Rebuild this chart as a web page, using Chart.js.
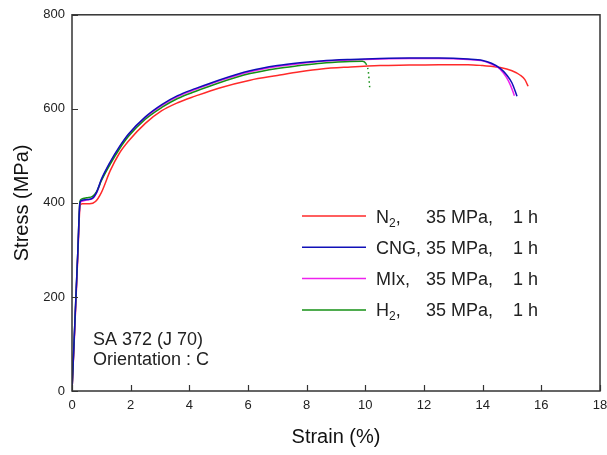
<!DOCTYPE html>
<html><head><meta charset="utf-8">
<script src="https://cdn.jsdelivr.net/npm/chart.js@4.4.1/dist/chart.umd.min.js"></script>
<style>html,body{margin:0;padding:0;background:#fff;}#wrap{width:607px;height:455px;}</style>
</head><body><div id="wrap"><canvas id="c" width="607" height="455"></canvas></div>
<script>
// ---- data ----
const xTickValues = [0, 2, 4, 6, 8, 10, 12, 14, 16, 18];
const yTickValues = [0, 200, 400, 600, 800];

const n2Strain  = [0, 0.1, 0.2, 0.28, 0.35, 0.6, 0.8, 1.0, 1.3, 1.6, 1.92, 2.5, 3.06, 3.6, 4.2, 5.0, 6.07, 7.0, 7.77, 8.5, 9.5, 10.5, 11.5, 12.5, 13.5, 14.0, 14.6, 15.0, 15.27, 15.44, 15.55];
const n2Stress  = [0, 140, 290, 395, 398, 398, 403, 422, 468, 504, 531, 569, 596, 613, 627, 644, 661, 671, 679, 685, 689, 692, 693, 694, 694, 692, 688, 681, 672, 662, 648];

const cngStrain = [0, 0.1, 0.2, 0.27, 0.32, 0.5, 0.7, 0.84, 1.0, 1.3, 1.6, 1.92, 2.5, 3.06, 3.6, 4.2, 5.0, 6.07, 7.0, 7.77, 8.5, 9.5, 10.5, 11.5, 12.5, 13.5, 14.0, 14.3, 14.6, 14.82, 15.0, 15.17];
const cngStress = [0, 150, 300, 400, 405, 407, 410, 423, 450, 487, 518, 546, 583, 609, 628, 643, 661, 681, 692, 698, 702, 705, 707, 708, 708, 706, 703, 697, 686, 672, 655, 627];

const mixStrain = [0, 0.1, 0.2, 0.27, 0.32, 0.5, 0.7, 0.84, 1.0, 1.3, 1.6, 1.92, 2.5, 3.06, 3.6, 4.2, 5.0, 6.07, 7.0, 7.77, 8.5, 9.5, 10.5, 11.5, 12.5, 13.5, 14.0, 14.3, 14.6, 14.8, 14.95, 15.08];
const mixStress = [0, 145, 295, 398, 403, 406, 409, 421, 448, 485, 516, 544, 581, 607, 626, 641, 659, 679, 690, 696, 701, 704, 706, 707, 707, 705, 702, 695, 684, 668, 650, 628];

const h2Strain  = [0, 0.1, 0.2, 0.27, 0.32, 0.5, 0.7, 0.85, 1.0, 1.3, 1.6, 1.92, 2.5, 3.06, 3.6, 4.2, 5.0, 6.07, 7.0, 7.77, 8.5, 9.3, 9.9, 10.02, 10.1, 10.15];
const h2Stress  = [0, 150, 300, 403, 408, 411, 414, 425, 447, 482, 513, 541, 578, 603, 622, 637, 655, 675, 686, 692, 697, 700, 701, 696, 680, 645];
const h2DottedFrom = 23;

const seriesNames = [['N', '2'], ['CNG', ''], ['MIx', ''], ['H', '2']];
const seriesColors = ['#ff2a2a', '#1010b8', '#ee22ee', '#159015'];
const conditionText = '35 MPa,';
const timeText = '1 h';
const noteLines = ['SA 372 (J 70)', 'Orientation : C'];

function pts(xs, ys) { return xs.map((x, i) => ({ x: x, y: ys[i] })); }

const FONT = '"Liberation Sans", Arial, Helvetica, sans-serif';

const decor = {
  id: 'decor',
  afterDraw(chart) {
    const ctx = chart.ctx;
    const a = chart.chartArea;
    const xs = chart.scales.x, ys = chart.scales.y;
    ctx.save();
    // frame
    ctx.strokeStyle = '#333';
    ctx.lineWidth = 1.5;
    ctx.strokeRect(a.left, a.top, a.right - a.left, a.bottom - a.top);
    // inward ticks
    ctx.lineWidth = 1.2;
    ctx.beginPath();
    xTickValues.forEach(v => {
      const px = Math.round(xs.getPixelForValue(v)) + 0.5;
      ctx.moveTo(px, a.bottom); ctx.lineTo(px, a.bottom - 6);
    });
    yTickValues.forEach(v => {
      const py = Math.round(ys.getPixelForValue(v)) + 0.5;
      ctx.moveTo(a.left, py); ctx.lineTo(a.left + 6, py);
    });
    ctx.stroke();
    // legend
    const lx0 = 302, lx1 = 366, tx = 376, cx = 426, hx = 513;
    seriesNames.forEach((nm, i) => {
      const y = 216 + i * 31.3;
      ctx.strokeStyle = seriesColors[i];
      ctx.lineWidth = 1.5;
      ctx.beginPath(); ctx.moveTo(lx0, y); ctx.lineTo(lx1, y); ctx.stroke();
      ctx.fillStyle = '#222';
      ctx.textBaseline = 'alphabetic';
      ctx.textAlign = 'left';
      ctx.font = '18px ' + FONT;
      let x = tx;
      ctx.fillText(nm[0], x, y + 6.5);
      x += ctx.measureText(nm[0]).width;
      if (nm[1]) {
        ctx.font = '12px ' + FONT;
        ctx.fillText(nm[1], x, y + 10.5);
        x += ctx.measureText(nm[1]).width;
        ctx.font = '18px ' + FONT;
      }
      ctx.fillText(',', x, y + 6.5);
      ctx.fillText(conditionText, cx, y + 6.5);
      ctx.fillText(timeText, hx, y + 6.5);
    });
    // note
    ctx.font = '18px ' + FONT;
    ctx.fillStyle = '#222';
    ctx.fillText(noteLines[0], 93, 345);
    ctx.fillText(noteLines[1], 93, 365);
    ctx.restore();
  }
};

const lineBase = { showLine: true, pointRadius: 0, borderWidth: 1.5, fill: false, cubicInterpolationMode: 'monotone' };

new Chart(document.getElementById('c'), {
  type: 'scatter',
  data: {
    datasets: [
      Object.assign({}, lineBase, { label: 'N2', data: pts(n2Strain, n2Stress), borderColor: seriesColors[0], order: 4 }),
      Object.assign({}, lineBase, { label: 'CNG', data: pts(cngStrain, cngStress), borderColor: seriesColors[1], order: 1 }),
      Object.assign({}, lineBase, { label: 'MIx', data: pts(mixStrain, mixStress), borderColor: seriesColors[2], order: 3 }),
      Object.assign({}, lineBase, { label: 'H2', data: pts(h2Strain, h2Stress), borderColor: seriesColors[3], order: 2,
        segment: { borderDash: c => (c.p0DataIndex >= h2DottedFrom ? [1.5, 3] : undefined) } })
    ]
  },
  options: {
    responsive: false,
    animation: false,
    devicePixelRatio: 1,
    layout: { padding: { top: 11, right: 7, left: 0, bottom: 0 } },
    plugins: { legend: { display: false }, tooltip: { enabled: false } },
    scales: {
      x: {
        type: 'linear', min: 0, max: 18,
        afterBuildTicks: s => { s.ticks = xTickValues.map(v => ({ value: v })); },
        afterFit: s => { s.height = 64; s.paddingRight = 0; s.paddingLeft = 0; },
        grid: { display: false, drawTicks: false },
        border: { display: false },
        ticks: { font: { family: FONT, size: 13 }, color: '#222', padding: 7, maxRotation: 0 },
        title: { display: true, text: 'Strain (%)', font: { family: FONT, size: 20 }, color: '#111', padding: { top: 0, bottom: 6 } }
      },
      y: {
        type: 'linear', min: 0, max: 800,
        afterBuildTicks: s => { s.ticks = yTickValues.map(v => ({ value: v })); },
        afterFit: s => { s.width = 72; },
        grid: { display: false, drawTicks: false },
        border: { display: false },
        ticks: { font: { family: FONT, size: 13 }, color: '#222', padding: 7 },
        title: { display: true, text: 'Stress (MPa)', font: { family: FONT, size: 20 }, color: '#111', padding: { top: 10, bottom: 0 } }
      }
    }
  },
  plugins: [decor]
});
</script>
</body></html>
